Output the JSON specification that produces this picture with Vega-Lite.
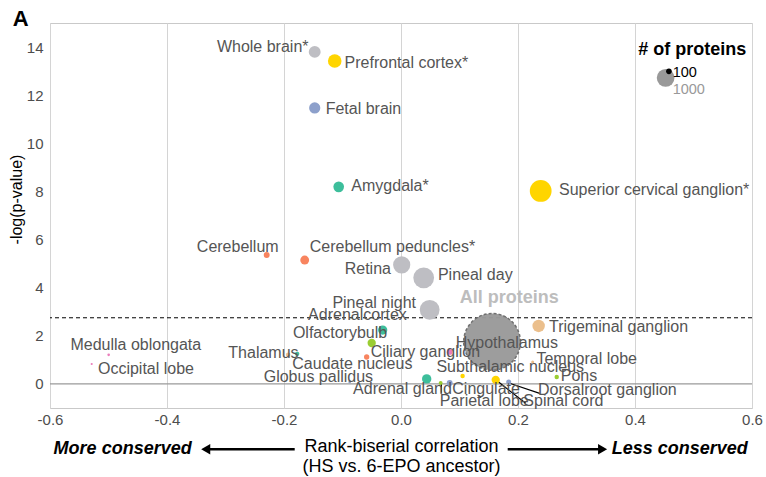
{
  "$schema": "https://vega.github.io/schema/vega-lite/v6.json",
  "width": 702,
  "height": 385,
  "autosize": {"type": "none"},
  "padding": {"left": 50, "top": 23, "right": 14, "bottom": 69},
  "background": "white",
  "config": {
    "font": "Liberation Sans",
    "view": {"stroke": "#c9c9c9", "strokeWidth": 1},
    "axis": {"domain": false, "ticks": false, "tickSize": 0, "labelFont": "Liberation Sans", "labelFontSize": 15, "labelColor": "#4d4d4d", "titleFont": "Liberation Sans", "titleColor": "#000000", "titleFontWeight": "normal"},
    "axisX": {"grid": true, "gridColor": "#d4d4d4", "gridWidth": 1, "labelPadding": 4, "titleFontSize": 18, "titlePadding": 10, "titleLineHeight": 20, "labelFlush": false, "labelOverlap": false},
    "axisY": {"grid": false, "labelPadding": 7, "titleFontSize": 16, "titleX": -26, "titleY": 176}
  },
  "datasets": {
    "tissues": [
      {"name": "Whole brain*", "x": -0.1475, "y": 13.80, "n": 450, "grp": "a"},
      {"name": "Prefrontal cortex*", "x": -0.1133, "y": 13.42, "n": 590, "grp": "b"},
      {"name": "Fetal brain", "x": -0.1475, "y": 11.47, "n": 400, "grp": "c"},
      {"name": "Amygdala*", "x": -0.1065, "y": 8.19, "n": 360, "grp": "d"},
      {"name": "Superior cervical ganglion*", "x": 0.2388, "y": 8.02, "n": 1510, "grp": "b"},
      {"name": "Cerebellum", "x": -0.2296, "y": 5.36, "n": 110, "grp": "e"},
      {"name": "Cerebellum peduncles*", "x": -0.1646, "y": 5.15, "n": 250, "grp": "e"},
      {"name": "Retina", "x": 0.0012, "y": 4.95, "n": 940, "grp": "a"},
      {"name": "Pineal day", "x": 0.0388, "y": 4.41, "n": 1370, "grp": "a"},
      {"name": "Pineal night", "x": 0.049, "y": 3.08, "n": 1250, "grp": "a"},
      {"name": "Adrenalcortex", "x": -0.0313, "y": 2.24, "n": 270, "grp": "d"},
      {"name": "Olfactorybulb", "x": -0.0501, "y": 1.70, "n": 220, "grp": "f"},
      {"name": "Ciliary ganglion", "x": -0.0587, "y": 1.12, "n": 90, "grp": "e"},
      {"name": "Thalamus", "x": -0.193, "y": 1.21, "n": 62, "grp": "h"},
      {"name": "Caudate nucleus", "x": -0.1775, "y": 1.25, "n": 62, "grp": "d"},
      {"name": "Globus pallidus", "x": -0.0877, "y": 0.08, "n": 22, "grp": "c"},
      {"name": "Medulla oblongata", "x": -0.4997, "y": 1.21, "n": 22, "grp": "g"},
      {"name": "Occipital lobe", "x": -0.5287, "y": 0.83, "n": 15, "grp": "g"},
      {"name": "Hypothalamus", "x": 0.0832, "y": 1.33, "n": 110, "grp": "g"},
      {"name": "Subthalamic nucleus", "x": 0.1053, "y": 0.33, "n": 62, "grp": "b"},
      {"name": "Trigeminal ganglion", "x": 0.2353, "y": 2.41, "n": 490, "grp": "h"},
      {"name": "Temporal lobe", "x": 0.2251, "y": 0.91, "n": 30, "grp": "h"},
      {"name": "Pons", "x": 0.2662, "y": 0.29, "n": 62, "grp": "f"},
      {"name": "Adrenal gland", "x": 0.0439, "y": 0.21, "n": 280, "grp": "d"},
      {"name": "Parietal lobe", "x": 0.0678, "y": 0.04, "n": 48, "grp": "f"},
      {"name": "Cingulate", "x": 0.0832, "y": 0.04, "n": 110, "grp": "c"},
      {"name": "Spinal cord", "x": 0.1619, "y": 0.17, "n": 220, "grp": "b"},
      {"name": "Dorsalroot ganglion", "x": 0.1841, "y": 0.08, "n": 80, "grp": "c"}
    ],
    "labels": [
      {"name": "Whole brain*", "x": -0.3147, "y": 14.02},
      {"name": "Prefrontal cortex*", "x": -0.0964, "y": 13.33},
      {"name": "Fetal brain", "x": -0.1288, "y": 11.43},
      {"name": "Amygdala*", "x": -0.0849, "y": 8.23},
      {"name": "Superior cervical ganglion*", "x": 0.2701, "y": 8.06},
      {"name": "Cerebellum", "x": -0.349, "y": 5.69},
      {"name": "Cerebellum peduncles*", "x": -0.156, "y": 5.71},
      {"name": "Retina", "x": -0.0962, "y": 4.77},
      {"name": "Pineal day", "x": 0.0631, "y": 4.53},
      {"name": "Pineal night", "x": -0.1173, "y": 3.38},
      {"name": "Adrenalcortex", "x": -0.1588, "y": 2.87},
      {"name": "Olfactorybulb", "x": -0.1848, "y": 2.11},
      {"name": "Ciliary ganglion", "x": -0.0518, "y": 1.32},
      {"name": "Thalamus", "x": -0.2952, "y": 1.28},
      {"name": "Caudate nucleus", "x": -0.1858, "y": 0.82},
      {"name": "Globus pallidus", "x": -0.2347, "y": 0.30},
      {"name": "Medulla oblongata", "x": -0.5651, "y": 1.62},
      {"name": "Occipital lobe", "x": -0.518, "y": 0.62},
      {"name": "Hypothalamus", "x": 0.0935, "y": 1.69},
      {"name": "Subthalamic nucleus", "x": 0.0605, "y": 0.69},
      {"name": "Trigeminal ganglion", "x": 0.253, "y": 2.36},
      {"name": "Temporal lobe", "x": 0.2315, "y": 1.04},
      {"name": "Pons", "x": 0.273, "y": 0.35},
      {"name": "Adrenal gland", "x": -0.0819, "y": -0.22},
      {"name": "Cingulate", "x": 0.0877, "y": -0.22},
      {"name": "Parietal lobe", "x": 0.0662, "y": -0.69},
      {"name": "Spinal cord", "x": 0.2091, "y": -0.69},
      {"name": "Dorsalroot ganglion", "x": 0.2342, "y": -0.25}
    ],
    "segments": [
      {"name": "Spinal cord", "x": 0.1619, "y": 0.17, "x2": 0.2132, "y2": -0.8},
      {"name": "Dorsalroot ganglion", "x": 0.1856, "y": 0.03, "x2": 0.2371, "y2": -0.39},
      {"name": "Parietal lobe", "x": 0.069, "y": 0.0, "x2": 0.069, "y2": -0.37}
    ]
  },
  "layer": [
    {
      "data": {"values": [{"y": 0}]},
      "mark": {"type": "rule", "color": "#9a9a9a", "strokeWidth": 1.3},
      "encoding": {"y": {"field": "y", "type": "quantitative", "scale": {"domain": [-1, 15], "nice": false, "zero": false}}}
    },
    {
      "data": {"values": [{"y": 2.75}]},
      "mark": {"type": "rule", "color": "#000000", "strokeWidth": 1, "strokeDash": [4, 3]},
      "encoding": {"y": {"field": "y", "type": "quantitative"}}
    },
    {
      "data": {"name": "segments"},
      "mark": {"type": "rule", "color": "#000000", "strokeWidth": 1.2},
      "encoding": {
        "x": {"field": "x", "type": "quantitative"},
        "y": {"field": "y", "type": "quantitative"},
        "x2": {"field": "x2"},
        "y2": {"field": "y2"}
      }
    },
    {
      "data": {"values": [{"name": "All proteins", "x": 0.1556, "y": 1.75, "n": 10240}]},
      "mark": {"type": "point", "shape": "circle", "filled": true, "fill": "#9a9a9a", "fillOpacity": 0.97, "stroke": "#707070", "strokeWidth": 1.5, "strokeDash": [3, 2], "opacity": 1},
      "encoding": {
        "x": {"field": "x", "type": "quantitative"},
        "y": {"field": "y", "type": "quantitative"},
        "size": {"field": "n", "type": "quantitative", "scale": {"domain": [0, 10000], "range": [0, 3142]}, "legend": null}
      }
    },
    {
      "data": {"name": "tissues"},
      "mark": {"type": "circle", "opacity": 1},
      "encoding": {
        "x": {"field": "x", "type": "quantitative", "scale": {"domain": [-0.6, 0.6], "nice": false, "zero": false},
              "axis": {"values": [-0.6, -0.4, -0.2, 0, 0.2, 0.4, 0.6], "format": ".1f", "labelExpr": "replace(datum.label, '\u2212', '-')"},
              "title": ["Rank-biserial correlation", "(HS vs. 6-EPO ancestor)"]},
        "y": {"field": "y", "type": "quantitative", "axis": {"values": [0, 2, 4, 6, 8, 10, 12, 14]}, "title": "-log(p-value)"},
        "size": {"field": "n", "type": "quantitative", "legend": null},
        "color": {"field": "grp", "type": "nominal", "legend": null,
                  "scale": {"domain": ["a", "b", "c", "d", "e", "f", "g", "h"],
                            "range": ["#bebec3", "#ffd500", "#8da0cb", "#3dbe9b", "#f8845f", "#9acd32", "#eb7dbb", "#ebbf8c"]}}
      }
    },
    {
      "data": {"name": "labels"},
      "mark": {"type": "text", "align": "left", "baseline": "middle", "fontSize": 16, "color": "#555555"},
      "encoding": {
        "x": {"field": "x", "type": "quantitative"},
        "y": {"field": "y", "type": "quantitative"},
        "text": {"field": "name"}
      }
    },
    {
      "data": {"values": [{"label": "All proteins", "x": 0.185, "y": 3.57}]},
      "mark": {"type": "text", "align": "center", "baseline": "middle", "fontSize": 18, "fontWeight": "bold", "color": "#bdbdbd"},
      "encoding": {"x": {"field": "x", "type": "quantitative"}, "y": {"field": "y", "type": "quantitative"}, "text": {"field": "label"}}
    },
    {
      "data": {"values": [{"x": 0.4524, "y": 12.72, "n": 1000}]},
      "mark": {"type": "circle", "color": "#999999", "opacity": 1},
      "encoding": {"x": {"field": "x", "type": "quantitative"}, "y": {"field": "y", "type": "quantitative"}, "size": {"field": "n", "type": "quantitative", "legend": null}}
    },
    {
      "data": {"values": [{"x": 0.458, "y": 12.99, "n": 100}]},
      "mark": {"type": "circle", "color": "#000000", "opacity": 1},
      "encoding": {"x": {"field": "x", "type": "quantitative"}, "y": {"field": "y", "type": "quantitative"}, "size": {"field": "n", "type": "quantitative", "legend": null}}
    },
    {
      "data": {"values": [{"label": "# of proteins", "x": 0.4978, "y": 13.88}]},
      "mark": {"type": "text", "align": "center", "baseline": "middle", "fontSize": 18, "fontWeight": "bold", "color": "#000000"},
      "encoding": {"x": {"field": "x", "type": "quantitative"}, "y": {"field": "y", "type": "quantitative"}, "text": {"field": "label"}}
    },
    {
      "data": {"values": [{"label": "100", "x": 0.4644, "y": 12.94}]},
      "mark": {"type": "text", "align": "left", "baseline": "middle", "fontSize": 14.5, "color": "#000000"},
      "encoding": {"x": {"field": "x", "type": "quantitative"}, "y": {"field": "y", "type": "quantitative"}, "text": {"field": "label"}}
    },
    {
      "data": {"values": [{"label": "1000", "x": 0.4644, "y": 12.22}]},
      "mark": {"type": "text", "align": "left", "baseline": "middle", "fontSize": 14.5, "color": "#999999"},
      "encoding": {"x": {"field": "x", "type": "quantitative"}, "y": {"field": "y", "type": "quantitative"}, "text": {"field": "label"}}
    },
    {
      "data": {"values": [{"label": "A", "x": -0.65, "y": 15.17}]},
      "mark": {"type": "text", "align": "center", "baseline": "middle", "fontSize": 22, "fontWeight": "bold", "color": "#000000"},
      "encoding": {"x": {"field": "x", "type": "quantitative"}, "y": {"field": "y", "type": "quantitative"}, "text": {"field": "label"}}
    },
    {
      "data": {"values": [{"label": "More conserved", "x": -0.3578, "y": -2.7}]},
      "mark": {"type": "text", "align": "right", "baseline": "middle", "fontSize": 18, "fontWeight": "bold", "fontStyle": "italic", "color": "#000000"},
      "encoding": {"x": {"field": "x", "type": "quantitative"}, "y": {"field": "y", "type": "quantitative"}, "text": {"field": "label"}}
    },
    {
      "data": {"values": [{"label": "Less conserved", "x": 0.3602, "y": -2.7}]},
      "mark": {"type": "text", "align": "left", "baseline": "middle", "fontSize": 18, "fontWeight": "bold", "fontStyle": "italic", "color": "#000000"},
      "encoding": {"x": {"field": "x", "type": "quantitative"}, "y": {"field": "y", "type": "quantitative"}, "text": {"field": "label"}}
    },
    {
      "data": {"values": [{"x": -0.335, "x2": -0.1817, "y": -2.71}, {"x": 0.1824, "x2": 0.344, "y": -2.71}]},
      "mark": {"type": "rule", "color": "#000000", "strokeWidth": 2.5},
      "encoding": {"x": {"field": "x", "type": "quantitative"}, "x2": {"field": "x2"}, "y": {"field": "y", "type": "quantitative"}}
    },
    {
      "data": {"values": [{"x": -0.3338, "y": -2.71}]},
      "mark": {"type": "point", "shape": "triangle-left", "filled": true, "color": "#000000", "size": 110, "opacity": 1},
      "encoding": {"x": {"field": "x", "type": "quantitative"}, "y": {"field": "y", "type": "quantitative"}}
    },
    {
      "data": {"values": [{"x": 0.3446, "y": -2.71}]},
      "mark": {"type": "point", "shape": "triangle-right", "filled": true, "color": "#000000", "size": 110, "opacity": 1},
      "encoding": {"x": {"field": "x", "type": "quantitative"}, "y": {"field": "y", "type": "quantitative"}}
    }
  ]
}
